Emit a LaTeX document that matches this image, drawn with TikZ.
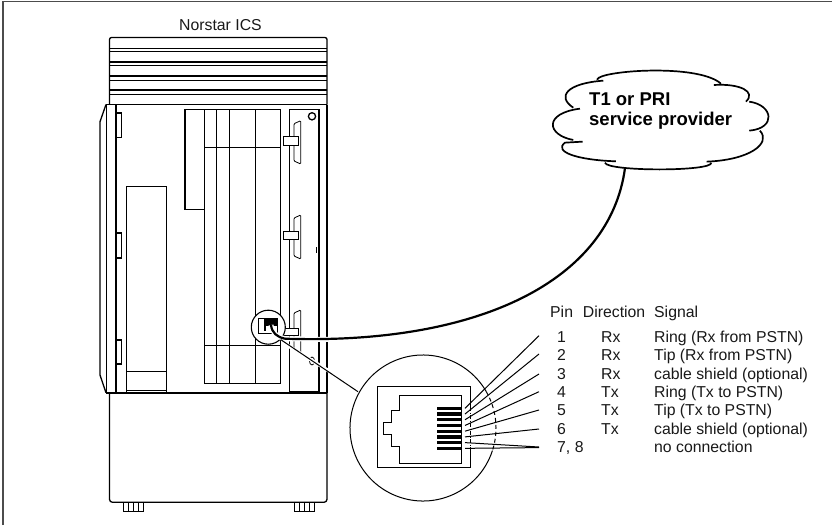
\documentclass[tikz,border=0pt]{standalone}
\usepackage{fontspec}
\setmainfont{Liberation Sans}
\newcommand{\lbl}{\fontsize{15.8}{18}\selectfont}
\newcommand{\lblb}{\fontsize{18.5}{21}\selectfont\bfseries}
\begin{document}
\begin{tikzpicture}[x=1pt,y=-1pt,
  thinl/.style={line width=0.8pt,black},
  medl/.style={line width=1.3pt,black},
  thick2/.style={line width=1.8pt,black},
  txt/.style={font=\lbl,anchor=base west,inner sep=0pt,text=black!90},
  lobe/.style={line width=1.7pt,black}]
\useasboundingbox (0,0) rectangle (832,525);
\fill[white] (0,0) rectangle (832,525);
% frame
\draw[line width=1.5pt,black!70] (3,525) -- (3,1.5) -- (832,1.5);
% title
\node[txt] (title) at (179,30.7) {Norstar ICS};
% top cap
\draw[medl,rounded corners=2pt] (109.5,104.5) -- (109.5,37.5) -- (327,37.5) -- (327,104.5);
\foreach \a/\b in {48.5/51.7,62/65.7,76/80,90/94}{
  \draw[medl] (109.5,\a) -- (327,\a);
  \draw[line width=0.5pt] (109.5,\b) -- (327,\b);
}
\draw[thick2] (106,104.5) -- (327,104.5);
% right side
\draw[medl] (327,104.5) -- (327,392.7);
% door
\draw[medl] (106,104.5) -- (100,121.7) -- (100,375) -- (106,392.7);
\draw[medl] (116,104.5) -- (116,392.7);
\draw[line width=0.5pt] (106.7,104.5) -- (106.7,392.7);
\foreach \a/\b in {113/137.7,233/258,340/364}{
  \draw[medl] (116,\a) -- (121.3,\a) -- (121.3,\b) -- (116,\b);
}
% left box
\draw[medl] (126.7,392.7) -- (126.7,186.7) -- (166.7,186.7) -- (166.7,392.7);
\draw[thinl] (126.7,371.7) -- (166.7,371.7);
\draw[thinl] (126.7,390.7) -- (166.7,390.7);
% cards
\draw[medl] (204.3,109.3) -- (185,109.3) -- (185,209.3) -- (204.3,209.3);
\draw[thinl] (204.3,109.3) -- (280.7,109.3);
\foreach \x in {204.3,216.7,229.3,255,280.7}{
  \draw[line width=1pt] (\x,109.3) -- (\x,383.3);
}
\draw[medl] (204.3,383.3) -- (280.7,383.3);
\draw[line width=0.6pt] (204.3,147.7) -- (280.7,147.7);
\draw[line width=0.6pt] (204.3,345) -- (280.7,345);
% right panel
\draw[medl] (289.3,392.7) -- (289.3,109.3) -- (319,109.3) -- (319,392.7);
\draw[medl] (312,116.3) circle (3.6);
\foreach \t/\b/\ta/\tb in {120.7/164/136.7/145,215/259/231.7/239,310/353/328/335}{
  \draw[thinl,rounded corners=1pt] (300.7,\t) -- (294,\t+3) -- (294,\b-3) -- (300.7,\b) -- cycle;
  \draw[thinl,fill=white] (283.3,\ta) rectangle (298.7,\tb);
}
\draw[medl] (316.5,247) -- (316.5,253);
\draw[thinl] (312,361) ellipse (2.5 and 4);
\draw[thick2] (289.3,391.5) -- (319,391.5);
% base
\draw[thick2] (106,392.7) -- (327,392.7);
\draw[medl,rounded corners=3pt] (109.5,392.7) -- (109.5,502.3) -- (327,502.3) -- (327,392.7);
% feet
\foreach \x in {123.3,294}{
  \draw[thinl] (\x,502.3) -- (\x,511) -- (\x+20,511) -- (\x+20,502.3);
  \draw[line width=0.5pt] (\x+5,502.3) -- (\x+5,511) (\x+10,502.3) -- (\x+10,511) (\x+15,502.3) -- (\x+15,511);
}
% small magnifier
\node[circle,draw=black,line width=1.1pt,fill=white,minimum size=34pt,inner sep=0pt] (small) at (268.3,327.2) {};
\node[draw=black,line width=1pt,fill=white,minimum width=18.5pt,minimum height=15.5pt,inner sep=0pt] (jack) at (267.8,326.2) {};
\fill[black] (263.5,318.5) rectangle (277,325.5);
\fill[black] (263.5,325.5) rectangle (266,331);
% cable
\coordinate (cablestart) at (271,325);
\coordinate (cablebend) at (285,338.7);
\coordinate (cloudfoot) at (625,168);
\draw[white,line width=5pt] (cablestart) .. controls (272,333) and (277,337) .. (cablebend) -- (333,339.5);
\draw[line width=2.2pt,black] (cablestart) .. controls (272,333) and (277,337) .. (cablebend);
\draw[line width=2.2pt,black] (cablebend) .. controls (480,345) and (610,280) .. (cloudfoot);
% big circle
\coordinate (bigc) at (423,428);
\draw[line width=1pt] (bigc) ++(18:73) arc (18:330:73);
\draw[line width=1pt,dash pattern=on 4pt off 3pt] (bigc) ++(-30:73) arc (-30:18:73);
\draw[white,line width=3.5pt] (small.-45) ++(4,4) -- (345,381);
\draw[line width=1pt] (small.-45) -- (358,391.7);
% magnified jack
\draw[thinl] (470.7,407) -- (470.7,386.7) -- (377.3,386.7) -- (377.3,467.7) -- (470.7,467.7) -- (470.7,450);
\draw[thinl,dash pattern=on 4pt off 1.5pt on 1pt off 1.5pt] (470.7,407) -- (470.7,450);
\draw[thinl] (399,395) -- (461.3,395) -- (461.3,463.3) -- (399,463.3) -- (399,446.7) -- (391.7,446.7) -- (391.7,434.3) -- (383.3,434.3) -- (383.3,422.3) -- (391.7,422.3) -- (391.7,410.7) -- (399,410.7) -- cycle;
\foreach \i in {0,...,7}{
  \fill[black] (437.3,{408.3+5.72*\i-1.6}) rectangle (461.3,{408.3+5.72*\i+1.6});
}
% fan
\foreach \i/\e in {1/335.7,2/354,3/374,4/391.7,5/410,6/429,7/447,8/447.6}{
  \coordinate (pin\i) at (465,{408.3+5.72*(\i-1)});
  \coordinate (lab\i) at (539,\e);
  \draw[line width=1pt] (pin\i) -- (lab\i);
}
% table
\node[txt] (hpin) at (550,317.3) {Pin};
\node[txt] (hdir) at (582.7,317.3) {Direction};
\node[txt] (hsig) at (654,317.3) {Signal};
\foreach \i/\p/\d/\s in {0/1/Rx/Ring (Rx from PSTN),1/2/Rx/Tip (Rx from PSTN),2/3/Rx/cable shield (optional),3/4/Tx/Ring (Tx to PSTN),4/5/Tx/Tip (Tx to PSTN),5/6/Tx/cable shield (optional)}{
  \node[txt] (p\i) at (557,{342.3+18.4*\i}) {\p};
  \node[txt] (d\i) at (601,{342.3+18.4*\i}) {\d};
  \node[txt] (s\i) at (654,{342.3+18.4*\i}) {\s};
}
\node[txt] (p6) at (557,452.7) {7, 8};
\node[txt] (s6) at (654,452.7) {no connection};
% cloud
\begin{scope}[x=0.3333pt,y=-0.3333pt,shift={(1530,180)}]
\draw[lobe,line cap=round] (262,58) .. controls (270,32) and (560,10) .. (632,70);
\draw[lobe] (612,75) .. controls (690,70) and (740,95) .. (708,125);
\draw[lobe] (718,125) .. controls (790,135) and (800,205) .. (718,212);
\draw[lobe] (750,212) .. controls (785,250) and (720,300) .. (590,305);
\draw[lobe] (604,308) .. controls (610,335) and (290,335) .. (285,308);
\draw[lobe] (318,304) .. controls (200,300) and (130,275) .. (165,248) -- (218,245);
\draw[lobe] (190,240) .. controls (110,225) and (100,160) .. (210,146);
\draw[lobe] (190,143) .. controls (140,110) and (170,70) .. (280,62);
\end{scope}
\node[font=\lblb,anchor=base west,inner sep=0pt,align=left] (cloudtxt1) at (589,105.7) {T1 or PRI};
\node[font=\lblb,anchor=base west,inner sep=0pt,align=left] (cloudtxt2) at (589,125) {service provider};
\end{tikzpicture}
\end{document}
